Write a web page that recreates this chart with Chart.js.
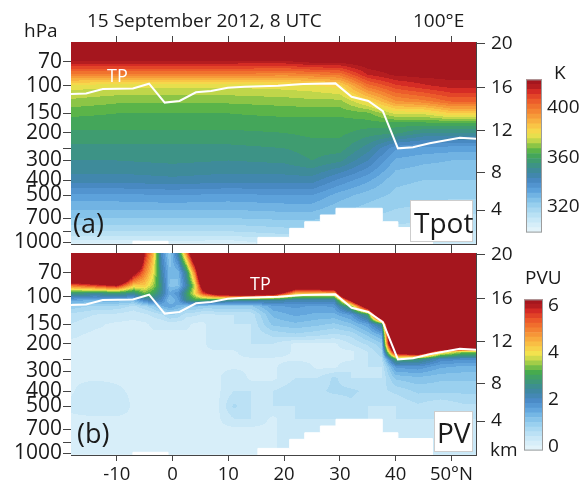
<!DOCTYPE html>
<html lang="en">
<head>
<meta charset="UTF-8" />
<title>Tpot and PV cross section, 100°E</title>
<script src="https://cdn.jsdelivr.net/npm/chart.js"></script>
<style>
  body { margin: 0; background: #fff; font-family: "Open Sans", sans-serif; color: #1a1a1a; }
  #fig { position: relative; width: 582px; height: 486px; overflow: hidden; background: #fff; }
  #fig canvas { position: absolute; }
  .lbl { position: absolute; white-space: nowrap; line-height: 1; }
  .box { position: absolute; box-sizing: border-box; background: #fff; border: 1px solid #cdcdcd; }
</style>
</head>
<body>
<div id="fig">
  <canvas id="tpotChart" width="582" height="270" style="left:0;top:0"></canvas>
  <canvas id="pvChart" width="582" height="275" style="left:0;top:211px"></canvas>
  <canvas id="tpotBar" width="56" height="186" style="left:526px;top:63px"></canvas>
  <canvas id="pvBar" width="58" height="184" style="left:524px;top:283px"></canvas>

  <div class="lbl" style="left:87px;top:11px;font-size:19px">15 September 2012, 8 UTC</div>
  <div class="lbl" style="left:413px;top:11px;font-size:19px">100°E</div>
  <div class="lbl" style="left:24px;top:21px;font-size:19px">hPa</div>
  <div class="lbl" style="left:554px;top:63px;font-size:19px">K</div>
  <div class="lbl" style="left:525px;top:268px;font-size:19px">PVU</div>
  <div class="lbl" style="left:490px;top:440px;font-size:19px">km</div>
  <div class="lbl" style="left:107px;top:66px;font-size:18px;color:#fff">TP</div>
  <div class="lbl" style="left:250px;top:274px;font-size:18px;color:#fff">TP</div>
  <div class="lbl" style="left:73px;top:209px;font-size:27px">(a)</div>
  <div class="lbl" style="left:77px;top:419px;font-size:27px">(b)</div>
  <div class="box" style="left:410px;top:200px;width:63px;height:42px"></div>
  <div class="lbl" style="left:414px;top:208px;font-size:28px">Tpot</div>
  <div class="box" style="left:434px;top:411px;width:39px;height:41px"></div>
  <div class="lbl" style="left:437px;top:418px;font-size:28px">PV</div>
</div>

<script>
// axes
const latMin = -18.2, latMax = 54.4;
const pTop = 52.5, pBottom = 1025;
const latTicks = [-10, 0, 10, 20, 30, 40, 50];
const pTicks = [70, 100, 150, 200, 250, 300, 400, 500, 700, 850, 1000];
const pLabels = ['70', '100', '150', '200', '', '300', '400', '500', '700', '', '1000'];
const kmLabels = ['4', '8', '12', '16', '20'];
const kmPressure = [622, 358, 194, 103, 54];

// thermal tropopause (white line)
const tpLat = [-18.2, -15.5, -12.5, -7.1, -4.2, -1.4, 1.25, 4.2, 6.9, 9.9, 12.9, 18.9, 23.4, 29.2, 32.1, 35.1, 37.7, 40.4, 43.1, 46.1, 51.5, 54.4];
const tpP = [113, 112, 105, 104, 97, 128, 125, 110, 108, 103, 101.5, 100, 97.5, 96.5, 117.5, 125, 145, 251, 247, 233, 215, 218];

// orography (surface pressure, steps)
const topoLat = [-18.2, -7.1, -0.8, 15.3, 21.0, 23.7, 26.5, 29.3, 37.6, 40.4, 46.6, 54.4];
const topoP = [1030, 985, 1030, 930, 814, 739, 669, 606, 739, 805, 1030, 1030];

// potential temperature (K), one column per latitude, levels bottom -> top
const tpotLat = [-18, -10, 0, 10, 20, 25, 30, 35, 40, 45, 50, 55];
const tpotLevels = [1000, 850, 700, 500, 400, 300, 250, 200, 175, 150, 125, 100, 85, 70, 60, 52];
const tpotCols = [
  [305, 315, 323, 334, 345, 351, 354, 358, 361, 364, 370, 377, 398, 418, 432, 445],
  [305, 315, 323, 334, 345, 351, 354, 358, 361, 363, 368, 376, 398, 418, 432, 445],
  [306, 315, 323, 335, 346, 352, 354, 358, 361, 363, 368, 376, 398, 418, 432, 445],
  [305, 315, 323, 334, 345, 351, 354, 358, 361, 363, 368, 376, 398, 418, 432, 445],
  [309, 317, 324, 335, 345, 352, 355, 359, 361, 364, 369, 377, 396, 418, 432, 445],
  [312, 318, 324, 335, 345, 355, 357, 360, 361, 364, 370, 378, 398, 421, 432, 445],
  [312, 316, 321, 329, 338, 352, 357, 360, 361, 364, 370, 381, 400, 421, 432, 445],
  [312, 316, 319, 325, 332, 343, 349, 357, 361, 366, 381, 401, 415, 424, 432, 445],
  [309, 313, 317, 322, 324, 330, 336, 356, 361, 376, 395, 410, 420, 425, 432, 445],
  [308, 312, 316, 321, 323, 328, 334, 351, 361, 376, 398, 414, 421, 426, 432, 445],
  [307, 311, 314, 320, 323, 327, 333, 351, 361, 383, 404, 417, 421, 426, 432, 445],
  [307, 311, 314, 320, 323, 327, 333, 351, 361, 383, 404, 417, 421, 426, 432, 445]
];

// potential vorticity (PVU), one column per latitude, levels bottom -> top
const pvLat = [-18.5, -14, -10, -7, -5, -3.5, -2, -0.5, 1, 2.5, 4, 5.5, 8, 11, 14, 18, 22, 26, 29, 32, 35, 37.5, 40, 44, 48, 52, 55];
const pvLevels = [1000, 850, 700, 600, 500, 400, 330, 280, 250, 225, 200, 175, 150, 130, 115, 105, 95, 85, 70, 52];
const pvCols = [
  [0.2, 0.2, 0.2, 0.2, 0.3, 0.2, 0.2, 0.2, 0.2, 0.2, 0.2, 0.3, 0.45, 0.6, 1.0, 1.6, 2.8, 5.0, 10, 14],
  [0.2, 0.2, 0.2, 0.2, 0.45, 0.45, 0.2, 0.2, 0.2, 0.2, 0.2, 0.2, 0.3, 0.45, 0.8, 1.4, 2.6, 5.5, 10, 14],
  [0.2, 0.2, 0.2, 0.2, 0.45, 0.3, 0.2, 0.2, 0.2, 0.2, 0.2, 0.2, 0.2, 0.4, 0.8, 1.4, 2.8, 6.0, 11, 14],
  [0.2, 0.2, 0.2, 0.2, 0.2, 0.2, 0.2, 0.2, 0.2, 0.2, 0.2, 0.2, 0.2, 0.3, 0.6, 1.3, 2.6, 4.2, 6.5, 12],
  [0.2, 0.2, 0.2, 0.2, 0.2, 0.2, 0.2, 0.2, 0.2, 0.2, 0.2, 0.2, 0.2, 0.4, 0.8, 2.0, 3.3, 4.2, 5.0, 6.0],
  [0.2, 0.2, 0.2, 0.2, 0.2, 0.2, 0.2, 0.2, 0.2, 0.2, 0.2, 0.2, 0.3, 0.5, 1.0, 2.3, 3.0, 3.6, 4.0, 4.5],
  [0.2, 0.2, 0.2, 0.2, 0.2, 0.2, 0.2, 0.2, 0.2, 0.2, 0.2, 0.2, 0.3, 0.6, 1.4, 2.0, 2.4, 2.6, 2.3, 2.0],
  [0.2, 0.2, 0.2, 0.2, 0.2, 0.2, 0.2, 0.2, 0.2, 0.2, 0.2, 0.2, 0.3, 0.9, 1.6, 1.2, 1.5, 1.2, 1.3, 1.0],
  [0.2, 0.2, 0.2, 0.2, 0.2, 0.2, 0.2, 0.2, 0.2, 0.2, 0.2, 0.2, 0.3, 0.8, 1.4, 1.6, 1.8, 1.2, 1.3, 2.4],
  [0.2, 0.2, 0.2, 0.2, 0.2, 0.2, 0.2, 0.2, 0.2, 0.2, 0.2, 0.2, 0.3, 0.5, 1.2, 2.6, 2.8, 2.2, 2.6, 5.0],
  [0.2, 0.2, 0.2, 0.2, 0.2, 0.2, 0.2, 0.2, 0.2, 0.2, 0.2, 0.2, 0.2, 0.5, 1.1, 3.0, 4.0, 3.8, 5.0, 8.0],
  [0.2, 0.2, 0.2, 0.2, 0.2, 0.2, 0.2, 0.2, 0.2, 0.2, 0.2, 0.2, 0.2, 0.4, 1.0, 3.0, 5.5, 7.0, 9.0, 12],
  [0.2, 0.2, 0.2, 0.2, 0.2, 0.2, 0.2, 0.2, 0.2, 0.2, 0.45, 0.45, 0.45, 0.45, 1.0, 2.8, 7.0, 10, 12, 14],
  [0.2, 0.2, 0.2, 0.45, 0.7, 0.45, 0.45, 0.2, 0.2, 0.2, 0.45, 0.45, 0.45, 0.45, 1.0, 2.6, 7.5, 11, 13, 14],
  [0.2, 0.2, 0.2, 0.45, 0.45, 0.45, 0.2, 0.2, 0.2, 0.45, 0.45, 0.45, 0.45, 0.5, 1.0, 2.6, 7.5, 11, 13, 14],
  [0.2, 0.2, 0.2, 0.2, 0.45, 0.45, 0.2, 0.2, 0.2, 0.45, 0.45, 0.7, 1.1, 1.3, 1.6, 2.4, 7.0, 11, 13, 14],
  [0.45, 0.45, 0.45, 0.45, 0.45, 0.6, 0.45, 0.45, 0.2, 0.2, 0.2, 0.8, 1.2, 1.5, 1.7, 2.2, 4.5, 7.5, 13, 14],
  [0.45, 0.45, 0.45, 0.45, 0.6, 0.6, 0.45, 0.2, 0.2, 0.2, 0.2, 0.7, 1.1, 1.4, 1.6, 2.2, 4.5, 7.5, 13, 14],
  [0.45, 0.45, 0.45, 0.45, 0.45, 0.7, 0.7, 0.2, 0.2, 0.2, 0.2, 0.6, 1.0, 1.4, 1.7, 2.2, 4.5, 8.0, 13, 14],
  [0.45, 0.45, 0.45, 0.45, 0.6, 0.7, 0.45, 0.45, 0.2, 0.2, 0.45, 0.7, 1.2, 1.7, 3.2, 6.5, 12, 14, 14, 14],
  [0.45, 0.45, 0.45, 0.45, 0.45, 0.6, 0.45, 0.45, 0.45, 0.45, 0.7, 1.1, 1.6, 2.8, 7.5, 11, 14, 14, 14, 14],
  [0.45, 0.45, 0.45, 0.45, 0.45, 0.6, 0.45, 0.45, 0.6, 0.8, 1.0, 1.5, 2.6, 9.0, 12, 14, 14, 14, 14, 14],
  [0.45, 0.45, 0.45, 0.45, 0.45, 0.7, 1.1, 1.7, 3.0, 7.0, 11, 12, 13, 14, 14, 14, 14, 14, 14, 14],
  [0.45, 0.45, 0.45, 0.45, 0.6, 0.9, 1.2, 1.8, 2.8, 8.0, 12, 13, 14, 14, 14, 14, 14, 14, 14, 14],
  [0.45, 0.45, 0.45, 0.45, 0.45, 0.9, 1.1, 1.5, 2.0, 4.5, 12, 13, 14, 14, 14, 14, 14, 14, 14, 14],
  [0.45, 0.45, 0.45, 0.45, 0.6, 0.9, 1.1, 1.4, 1.9, 3.5, 11, 13, 14, 14, 14, 14, 14, 14, 14, 14],
  [0.45, 0.45, 0.45, 0.45, 0.6, 0.9, 1.1, 1.4, 1.9, 3.5, 11, 13, 14, 14, 14, 14, 14, 14, 14, 14]
];

// colour bars
const tpotBarTicks = [320, 360, 400];
const pvBarTicks = [0, 2, 4, 6];

const axisColor = '#444';
const textColor = '#1a1a1a';
Chart.defaults.font.family = '"Open Sans", sans-serif';
Chart.defaults.font.size = 19;
Chart.defaults.color = textColor;

const cmapStops = [
  [0.00, '#e8f5fb'], [0.06, '#d2ecf8'], [0.12, '#b6dff4'], [0.18, '#96ceee'],
  [0.23, '#78b9e6'], [0.28, '#5a9fd9'], [0.33, '#4a8ac6'], [0.38, '#3f86a8'],
  [0.43, '#3d918a'], [0.48, '#3f9f68'], [0.52, '#48ad4b'], [0.56, '#85c346'],
  [0.60, '#c5d84a'], [0.64, '#f3e24e'], [0.69, '#f9c747'], [0.75, '#f7a03b'],
  [0.81, '#f27a2f'], [0.87, '#ea5229'], [0.92, '#d52b25'], [0.965, '#a8171e'],
  [1.00, '#a3161e']
];

function hexToRgb(h) {
  return [parseInt(h.slice(1, 3), 16), parseInt(h.slice(3, 5), 16), parseInt(h.slice(5, 7), 16)];
}

function cmap(f) {
  f = Math.max(0, Math.min(1, f));
  for (let i = 1; i < cmapStops.length; i++) {
    if (f <= cmapStops[i][0]) {
      const [f0, c0] = cmapStops[i - 1];
      const [f1, c1] = cmapStops[i];
      const t = (f - f0) / (f1 - f0);
      const a = hexToRgb(c0), b = hexToRgb(c1);
      return a.map((v, k) => Math.round(v + (b[k] - v) * t));
    }
  }
  return hexToRgb(cmapStops[cmapStops.length - 1][1]);
}

function bandPalette(n) {
  const pal = [];
  for (let k = 0; k < n; k++) pal.push(cmap((k + 0.5) / n));
  return pal;
}

// filled contours drawn through the chart's own x / y scales
function fieldLayer(lats, levels, cols, lo, step, n) {
  const pal = bandPalette(n);
  const lnLev = levels.map((p) => Math.log(p));
  return {
    id: 'fieldLayer',
    beforeDatasetsDraw(chart) {
      const { ctx, chartArea: a, scales } = chart;
      const xs = scales.x, ys = scales.y;
      const w = Math.round(a.width), h = Math.round(a.height);
      const off = document.createElement('canvas');
      off.width = w;
      off.height = h;
      const octx = off.getContext('2d');
      const img = octx.createImageData(w, h);
      const cj = [], ct = [];
      for (let px = 0; px < w; px++) {
        const lat = xs.getValueForPixel(a.left + px + 0.5);
        let j = 0;
        while (j < lats.length - 2 && lat > lats[j + 1]) j++;
        cj.push(j);
        ct.push(Math.min(1, Math.max(0, (lat - lats[j]) / (lats[j + 1] - lats[j]))));
      }
      for (let py = 0; py < h; py++) {
        const lp = Math.log(ys.getValueForPixel(a.top + py + 0.5));
        let i = 0;
        while (i < lnLev.length - 2 && lp < lnLev[i + 1]) i++;
        const s = Math.min(1, Math.max(0, (lnLev[i] - lp) / (lnLev[i] - lnLev[i + 1])));
        for (let px = 0; px < w; px++) {
          const c0 = cols[cj[px]], c1 = cols[cj[px] + 1];
          const v0 = c0[i] + (c0[i + 1] - c0[i]) * s;
          const v1 = c1[i] + (c1[i + 1] - c1[i]) * s;
          const v = v0 + (v1 - v0) * ct[px];
          const k = Math.max(0, Math.min(n - 1, Math.floor((v - lo) / step)));
          const c = pal[k];
          const o = (py * w + px) * 4;
          img.data[o] = c[0];
          img.data[o + 1] = c[1];
          img.data[o + 2] = c[2];
          img.data[o + 3] = 255;
        }
      }
      octx.putImageData(img, 0, 0);
      ctx.drawImage(off, a.left, a.top, a.width, a.height);
    }
  };
}

function xAxis(position, height, showLabels) {
  return {
    type: 'linear', position, min: latMin, max: latMax, z: 1,
    afterBuildTicks: (ax) => { ax.ticks = latTicks.map((v) => ({ value: v })); },
    afterFit: (ax) => { ax.height = height; },
    grid: { drawOnChartArea: false, tickLength: 6, color: axisColor },
    border: { color: axisColor },
    ticks: {
      display: showLabels, padding: 3, maxRotation: 0, autoSkip: false, font: { size: 18.5 },
      callback: (v) => (v === 50 ? '50°N' : String(v))
    }
  };
}

function pressureAxis() {
  return {
    type: 'logarithmic', position: 'left', reverse: true, min: pTop, max: pBottom, z: 1,
    afterBuildTicks: (ax) => { ax.ticks = pTicks.map((v) => ({ value: v })); },
    afterFit: (ax) => { ax.width = 71; },
    grid: { drawOnChartArea: false, tickLength: 8, color: axisColor },
    border: { color: axisColor },
    ticks: { autoSkip: false, padding: 1, font: { size: 21 }, callback: (v) => pLabels[pTicks.indexOf(v)] }
  };
}

function kmAxis() {
  return {
    type: 'logarithmic', position: 'right', reverse: true, min: pTop, max: pBottom, z: 1,
    afterBuildTicks: (ax) => { ax.ticks = kmPressure.map((v) => ({ value: v })); },
    afterFit: (ax) => { ax.width = 106; },
    grid: { drawOnChartArea: false, tickLength: 9, color: axisColor },
    border: { color: axisColor },
    ticks: { autoSkip: false, padding: 6, callback: (v) => kmLabels[kmPressure.indexOf(v)] }
  };
}

function makePanel(id, lats, levels, cols, lo, step, n, bottomH, bottomLabels) {
  return new Chart(document.getElementById(id), {
    type: 'line',
    data: {
      datasets: [
        {
          label: 'TP',
          data: tpLat.map((v, i) => ({ x: v, y: tpP[i] })),
          borderColor: '#ffffff', borderWidth: 2, pointRadius: 0, fill: false, tension: 0
        },
        {
          label: 'orography',
          data: topoLat.map((v, i) => ({ x: v, y: topoP[i] })),
          stepped: true, borderColor: '#ffffff', borderWidth: 1, pointRadius: 0,
          backgroundColor: '#ffffff', fill: { value: pBottom }
        }
      ]
    },
    options: {
      responsive: false, animation: false, events: [],
      layout: { padding: 0 },
      plugins: { legend: { display: false }, tooltip: { enabled: false } },
      scales: {
        x: xAxis('bottom', bottomH, bottomLabels),
        xTop: xAxis('top', 42, false),
        y: pressureAxis(),
        yKm: kmAxis()
      }
    },
    plugins: [fieldLayer(lats, levels, cols, lo, step, n)]
  });
}

const barOutline = {
  id: 'barOutline',
  afterDatasetsDraw(chart) {
    const { ctx, chartArea: a } = chart;
    ctx.save();
    ctx.strokeStyle = '#9c9c9c';
    ctx.lineWidth = 1;
    ctx.strokeRect(a.left + 0.5, a.top + 0.5, a.width - 1, a.height - 1);
    ctx.restore();
  }
};

function makeColorBar(id, lo, step, n, ticks, barWidth, canvasWidth) {
  const pal = bandPalette(n);
  const datasets = [];
  for (let k = 0; k < n; k++) {
    datasets.push({
      data: [[lo + k * step, lo + (k + 1) * step]],
      backgroundColor: 'rgb(' + pal[k].join(',') + ')'
    });
  }
  return new Chart(document.getElementById(id), {
    type: 'bar',
    data: { labels: [''], datasets },
    options: {
      responsive: false, animation: false, events: [],
      layout: { padding: { top: 12, bottom: 12 } },
      datasets: { bar: { grouped: false, categoryPercentage: 1, barPercentage: 1, borderWidth: 0 } },
      plugins: { legend: { display: false }, tooltip: { enabled: false } },
      scales: {
        x: { display: false },
        y: {
          position: 'right', min: lo, max: lo + n * step,
          afterBuildTicks: (ax) => { ax.ticks = ticks.map((v) => ({ value: v })); },
          afterFit: (ax) => { ax.width = canvasWidth - barWidth; },
          grid: { display: false, drawTicks: false },
          border: { display: false },
          ticks: { padding: 5, autoSkip: false }
        }
      }
    },
    plugins: [barOutline]
  });
}

makePanel('tpotChart', tpotLat, tpotLevels, tpotCols, 299, 4, 31, 26, false);
makePanel('pvChart', pvLat, pvLevels, pvCols, -0.15, 0.2, 32, 31, true);
makeColorBar('tpotBar', 299, 4, 31, tpotBarTicks, 16, 56);
makeColorBar('pvBar', -0.15, 0.2, 32, pvBarTicks, 19, 58);
</script>
</body>
</html>
